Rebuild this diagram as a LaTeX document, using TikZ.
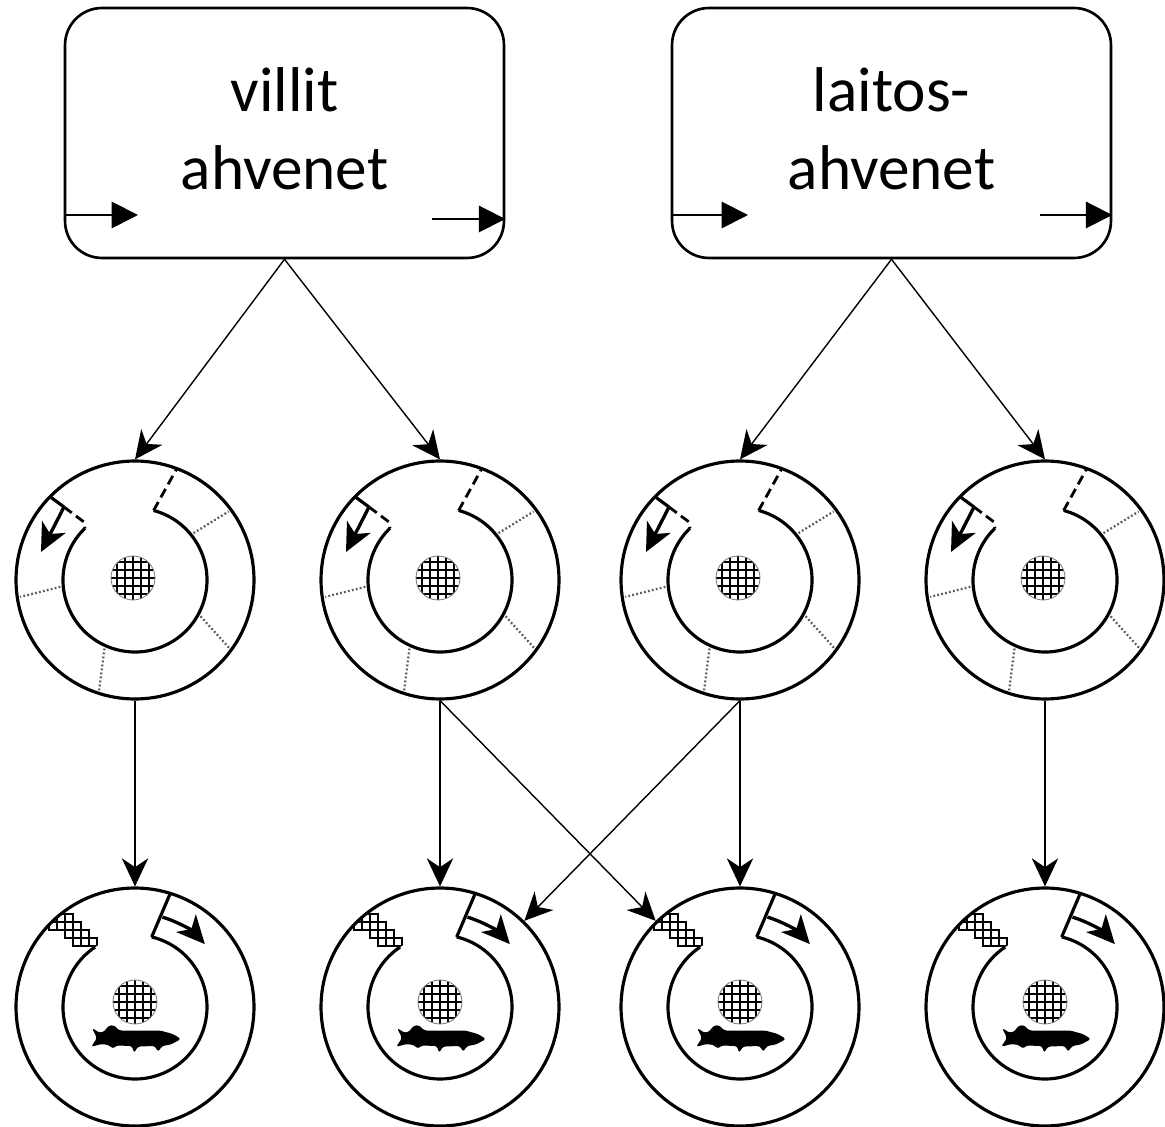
\documentclass[tikz,border=0pt]{standalone}
\usepackage{fontspec}
\setmainfont{Carlito}
\usetikzlibrary{arrows.meta}

% cross-hatched disc (the net) at a point inside a ring scope
\newcommand\netdisc[2]{%
  \begin{scope}[shift={(#1,#2)}]
    \clip (0,0) circle (22);
    \foreach \v in {-16,-8,...,16} {
      \draw[net] (\v,-23) -- (\v,23);
      \draw[net] (-23,\v) -- (23,\v);
    }
  \end{scope}
  \draw[gray, line width=0.5pt] (#1,#2) circle (22);}

% ring of the first stage: open gate with dashed walls and zone borders
\newcommand\spawnring[1]{%
  \begin{scope}[shift={(#1.center)}]
    \draw[wall] (75:72) arc[start angle=75, end angle=-226, radius=72];
    \draw[gatedash] (75:72) -- (69.5:118);
    \draw[wall] (135.5:118) -- (-71,73);
    \draw[gatedash] (-71,73) -- (-51,58) -- (134:72);
    \draw[move] (-71,73) -- (-94,28);
    \foreach \a/\b in {38.7/36.2, 185.2/188.4, -29/-35.8, -114/-108}
      \draw[zone] (\a:75) -- (\b:116);
    \netdisc{-2}{2}
  \end{scope}}

% ring of the second stage: netted corner, closed gate and a pike
\newcommand\pikering[1]{%
  \begin{scope}[shift={(#1.center)}]
    \begin{scope}[even odd rule]
      \clip (0,0) circle (118) (0,0) circle (72);
      \foreach \x/\y in {-78/85,-70/85,-86/77,-78/77,-70/77,-62/77,
                         -70/69,-62/69,-54/69,-62/61,-54/61,-46/61}
        \draw[net] (\x,\y) rectangle ++(8,8);
    \end{scope}
    \draw[wall] (76.6:72) arc[start angle=76.6, end angle=-236.3, radius=72];
    \draw[wall] (76.6:72) -- (72.8:118);
    \draw[move] (73:94) arc[start angle=73, end angle=42, radius=94];
    \netdisc{0}{5}
    \fill[rounded corners=1.5pt] (46,-32) -- (38,-27) -- (25,-23.5) -- (-16,-23.5)
      -- (-21,-18) -- (-27,-19) -- (-30,-24) -- (-35,-26) -- (-43,-21)
      -- (-38,-31) -- (-44,-40) -- (-34,-37) -- (-26,-38) -- (-22,-42)
      -- (-19,-38.5) -- (-3,-39) -- (-1,-46) -- (3,-39.5) -- (20,-39)
      -- (23,-45) -- (27,-39) -- (36,-37.5) -- cycle;
  \end{scope}}

\begin{document}
\begin{tikzpicture}[x=0.02cm, y=0.02cm,
  panel/.style={draw, line width=1.5pt, rounded corners=21pt,
    minimum width=8.78cm, minimum height=5cm, inner sep=0pt},
  paneltext/.style={align=center, font=\fontsize{36}{44.4}\selectfont, inner sep=0pt},
  ring/.style={draw, circle, line width=1.8pt, minimum size=4.76cm, inner sep=0pt},
  link/.style={line width=0.8pt, -{Stealth[length=16pt, width=15pt, inset=5pt]}},
  flow/.style={line width=1.1pt, -{Triangle[length=15pt, width=15pt]}},
  wall/.style={line width=1.8pt},
  gatedash/.style={line width=1.6pt, dash pattern=on 5.5pt off 3pt},
  move/.style={line width=1.9pt, -{Stealth[length=16pt, width=15pt, inset=4.5pt]}},
  zone/.style={black!65, line width=1.3pt, dash pattern=on 1pt off 1.3pt},
  net/.style={line width=0.8pt},
]
\useasboundingbox (0,0) rectangle (1165,1126);

% source boxes
\node[panel] (wild) at (284.5,993) {};
\node[paneltext] (wild-text) at (284.5,997) {villit\\ahvenet};
\node[panel] (farm) at (891.5,993) {};
\node[paneltext] (farm-text) at (891.5,997) {laitos-\\ahvenet};

\coordinate (wild-in) at (138,911);
\coordinate (wild-out) at (432,907);
\coordinate (farm-in) at (748,911);
\coordinate (farm-out) at (1040,911);
\draw[flow] (wild.west |- wild-in) -- (wild-in);
\draw[flow] (wild-out) -- (wild.east |- wild-out);
\draw[flow] (farm.west |- farm-in) -- (farm-in);
\draw[flow] (farm-out) -- (farm.east |- farm-out);

% rings
\node[ring] (m1) at (135,546) {};
\node[ring] (m2) at (440,546) {};
\node[ring] (m3) at (740,546) {};
\node[ring] (m4) at (1045,546) {};
\node[ring] (b1) at (135,119) {};
\node[ring] (b2) at (440,119) {};
\node[ring] (b3) at (740,119) {};
\node[ring] (b4) at (1045,119) {};

\spawnring{m1}
\spawnring{m2}
\spawnring{m3}
\spawnring{m4}
\pikering{b1}
\pikering{b2}
\pikering{b3}
\pikering{b4}

% connectors
\draw[link] (wild.south) -- (m1.north);
\draw[link] (wild.south) -- (m2.north);
\draw[link] (farm.south) -- (m3.north);
\draw[link] (farm.south) -- (m4.north);
\draw[link] (m1.south) -- (b1.north);
\draw[link] (m2.south) -- (b2.north);
\draw[link] (m2.south) -- (b3);
\draw[link] (m3.south) -- (b3.north);
\draw[link] (m3.south) -- (b2);
\draw[link] (m4.south) -- (b4.north);
\end{tikzpicture}
\end{document}
